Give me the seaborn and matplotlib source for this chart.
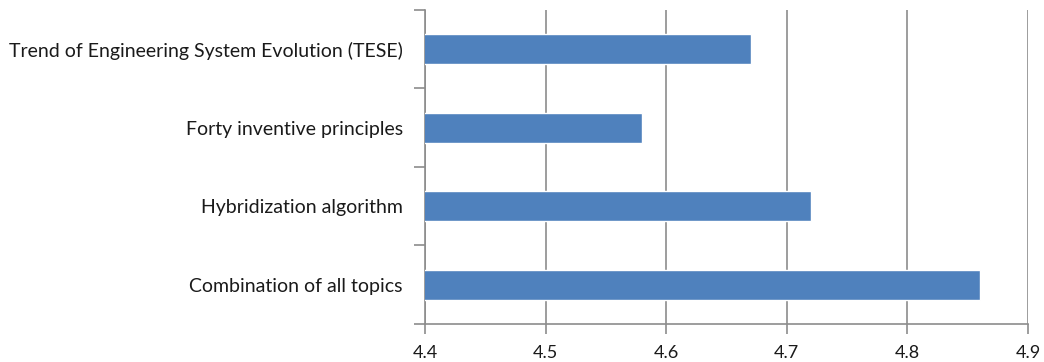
import matplotlib
matplotlib.use("Agg")
import matplotlib.pyplot as plt
import seaborn as sns
import pandas as pd

categories = ["Trend of Engineering System Evolution (TESE)",
              "Forty inventive principles",
              "Hybridization algorithm",
              "Combination of all topics"]
values = [4.67, 4.58, 4.72, 4.86]
x_ticks = [4.4, 4.5, 4.6, 4.7, 4.8, 4.9]

sns.set_theme(style="white")
plt.rcParams['font.family'] = ['Lato', 'DejaVu Sans']

df = pd.DataFrame({"category": categories, "value": values})

fig = plt.figure(figsize=(10.44, 3.62), dpi=100)
ax = fig.add_axes([0.407, 0.105, 0.5777, 0.8674])

sns.barplot(data=df, y="category", x="value", orient="h", color="#4F81BD",
            saturation=1, width=0.38, ax=ax, zorder=3)

ax.set_xlim(4.4, 4.9)
ax.set_xticks(x_ticks)
ax.set_xticklabels([f"{t:.1f}" for t in x_ticks])
ax.set_ylim(len(categories) - 0.5, -0.5)
ax.set_xlabel("")
ax.set_ylabel("")

grid_c = "#8c8c8c"
ax.grid(axis="x", color=grid_c, linewidth=1.2, zorder=0)
ax.grid(axis="y", visible=False)
for s in ["top", "right"]:
    ax.spines[s].set_visible(False)
for s in ["left", "bottom"]:
    ax.spines[s].set_color(grid_c)
    ax.spines[s].set_linewidth(1.2)

# category boundary ticks on the left
ax.set_yticks([i for i in range(len(categories))])
ax.set_yticks([i - 0.5 for i in range(len(categories) + 1)], minor=True)
ax.tick_params(axis="y", which="major", length=0, pad=16, labelsize=14, labelcolor="#1a1a1a")
ax.tick_params(axis="y", which="minor", length=8, width=1.2, color=grid_c, left=True)
ax.tick_params(axis="x", which="major", length=7, width=1.2, color=grid_c, bottom=True,
               direction="out", pad=8, labelsize=13, labelcolor="#1a1a1a")

fig.savefig("out.png", dpi=100)
